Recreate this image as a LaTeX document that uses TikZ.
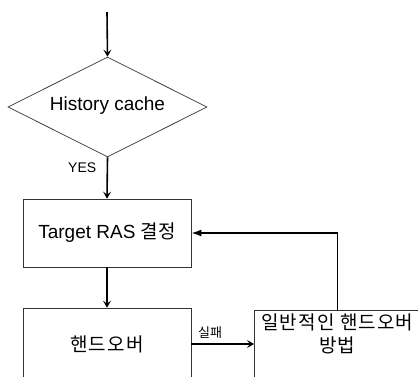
\documentclass[tikz,border=0pt]{standalone}
\usepackage{fontspec}
\setmainfont{Liberation Sans}
\newfontfamily\krfont{Noto Sans CJK KR}
\newfontfamily\krwide[LetterSpace=6]{Noto Sans CJK KR}
\usetikzlibrary{shapes.geometric,arrows.meta}

\begin{document}
\begin{tikzpicture}[x=1pt,y=-1pt,
    box/.style={draw=black!80,line width=0.7pt,inner sep=0pt,font=\fontsize{19}{23}\selectfont},
    flow/.style={line width=1.6pt,-{Stealth[length=7pt,width=8pt,inset=3pt]}}]
    \clip(0,0)rectangle(418,376);
    \coordinate(in)at(107,12);
    \node[box,diamond,aspect=2,minimum width=199pt,minimum height=100pt](hist)at(107.5,107){\raisebox{6pt}{History cache}};
    \node[box,minimum width=168pt,minimum height=68pt](target)at(107,233){Target RAS {\krfont 결정}};
    \node[box,minimum width=168pt,minimum height=72pt](ho)at(107,344){\krwide 핸드오버};
    \node[box,anchor=north west,minimum width=166pt,inner sep=3pt,align=center,text depth=36pt,
      font=\fontsize{19}{23}\selectfont\krwide](gen)at(254,310){일반적인 핸드오버\\방법};
    \draw[flow](in)--(hist.north);
    \draw[flow](hist.south)--(target.north)node[pos=0.25,left=7pt,font=\fontsize{14}{16}\selectfont]{YES};
    \draw[flow](target.south)--(ho.north);
    \draw[flow](ho.east)--(ho.east-|gen.west)node[pos=0.3,above=1pt,font=\fontsize{13}{15}\selectfont\krfont]{실패};
    \draw[line width=1.6pt,-{Latex[length=10pt,width=7pt]}](gen.north)|-(target.east);
\end{tikzpicture}
\end{document}
